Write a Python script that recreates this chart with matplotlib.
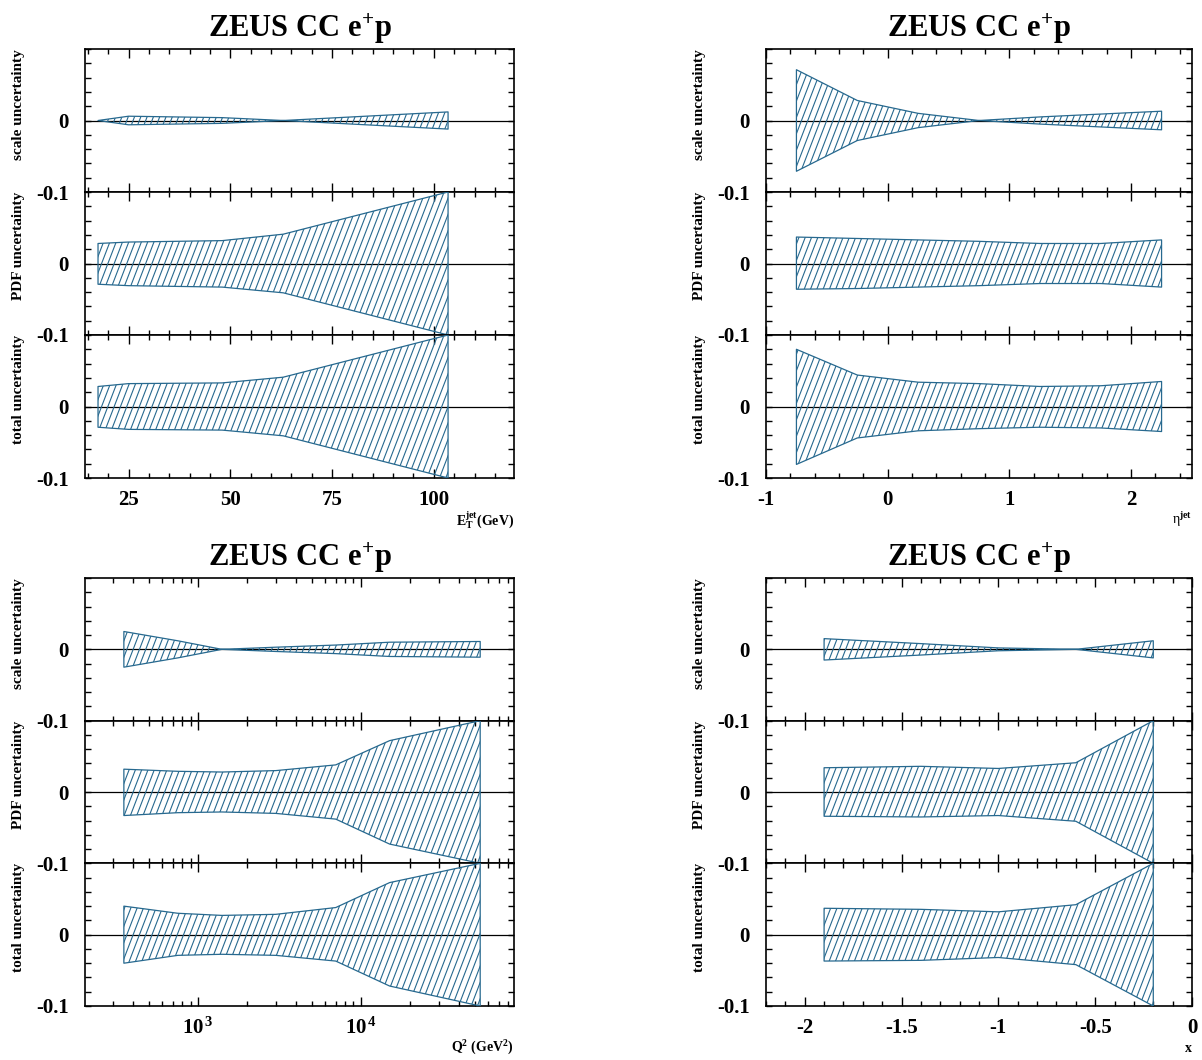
import numpy as np
import matplotlib
matplotlib.use('Agg')
import matplotlib.pyplot as plt
from matplotlib.ticker import MultipleLocator, FuncFormatter, LogLocator, NullFormatter
from matplotlib.collections import LineCollection

plt.rcParams['font.family'] = ['Liberation Serif', 'DejaVu Serif']
plt.rcParams['font.weight'] = 'bold'
plt.rcParams['mathtext.fontset'] = 'custom'
plt.rcParams['mathtext.rm'] = 'Liberation Serif:bold'
plt.rcParams['mathtext.bf'] = 'Liberation Serif:bold'
plt.rcParams['mathtext.it'] = 'Liberation Serif:italic:bold'
plt.rcParams['axes.unicode_minus'] = False

# E_T^jet
et_x = [17.5, 25, 48, 63, 103.5]
et_scale = [0.0, 0.006, 0.004, 0.0, 0.012]
et_pdf_up = [0.028, 0.030, 0.032, 0.041, 0.100]
et_pdf_dn = [-0.029, -0.031, -0.033, -0.041, -0.100]
et_tot_up = [0.028, 0.032, 0.033, 0.041, 0.100]
et_tot_dn = [-0.029, -0.032, -0.033, -0.041, -0.100]

# eta^jet
eta_x = [-0.75, -0.25, 0.25, 0.75, 1.25, 1.75, 2.25]
eta_scale = [0.071, 0.028, 0.010, 0.0, 0.005, 0.009, 0.013]
eta_pdf_up = [0.037, 0.035, 0.033, 0.031, 0.028, 0.028, 0.033]
eta_pdf_dn = [-0.036, -0.035, -0.033, -0.031, -0.028, -0.028, -0.033]
eta_tot_up = [0.080, 0.044, 0.034, 0.032, 0.028, 0.029, 0.035]
eta_tot_dn = [-0.081, -0.044, -0.034, -0.031, -0.029, -0.030, -0.035]

# Q^2
q2_x = [350, 750, 1400, 3000, 7000, 15000, 54000]
q2_scale = [0.025, 0.012, 0.0, 0.003, 0.006, 0.010, 0.011]
q2_pdf_up = [0.032, 0.029, 0.028, 0.030, 0.038, 0.072, 0.100]
q2_pdf_dn = [-0.033, -0.029, -0.028, -0.030, -0.038, -0.073, -0.100]
q2_tot_up = [0.040, 0.030, 0.027, 0.0285, 0.038, 0.073, 0.100]
q2_tot_dn = [-0.040, -0.029, -0.0275, -0.029, -0.037, -0.072, -0.100]

# log10(x)
lx_x = [-1.9, -1.4, -1.0, -0.6, -0.2]
lx_scale = [0.015, 0.008, 0.002, 0.0, 0.012]
lx_pdf_up = [0.034, 0.036, 0.033, 0.041, 0.100]
lx_pdf_dn = [-0.034, -0.035, -0.033, -0.041, -0.100]
lx_tot_up = [0.037, 0.0355, 0.032, 0.042, 0.100]
lx_tot_dn = [-0.037, -0.036, -0.032, -0.042, -0.100]

ylabels = ['scale uncertainty', 'PDF uncertainty', 'total uncertainty']
title = r'$\mathbf{ZEUS\ CC\ e^{+}p}$'

W, H = 1202, 1060
fig = plt.figure(figsize=(W / 100, H / 100), dpi=100)
band_color = '#27698f'


def yfmt(v, p):
    if abs(v) < 1e-6:
        return '0'
    if abs(v + 0.1) < 1e-6:
        return '-0.1'
    return ''


def hatch_band(ax, x, lo, hi, w_px, h_px):
    poly = ax.fill_between(x, lo, hi, facecolor='none', edgecolor=band_color,
                           lw=0.9, zorder=3)
    step = 6.3 / w_px
    lean = h_px / 2.6 / w_px
    segs = [[(x0, 0), (x0 + lean, 1)] for x0 in np.arange(-lean - step, 1 + step, step)]
    lc = LineCollection(segs, colors=band_color, linewidths=0.8,
                        transform=ax.transAxes, zorder=3)
    ax.add_collection(lc, autolim=False)
    lc.set_clip_path(poly.get_paths()[0], ax.transData)


def panel(x0, x1, ytop, ybot, x, bands, xlim, major, minor, xlabel, log=False,
          xlabel_weight='bold'):
    h = (ybot - ytop) / 3.0
    w = x1 - x0
    fig.text((x0 + x1) / 2 / W, 1 - (ytop - 20) / H, title, ha='center', va='center',
             fontsize=22)
    for i, (lo, hi) in enumerate(bands):
        top = ytop + i * h
        ax = fig.add_axes([x0 / W, 1 - (top + h) / H, w / W, h / H])
        ax.axhline(0, color='black', lw=0.9, zorder=2)
        hatch_band(ax, x, lo, hi, w, h)
        if log:
            ax.set_xscale('log')
            ax.xaxis.set_major_locator(LogLocator(base=10))
            ax.xaxis.set_minor_locator(LogLocator(base=10, subs=np.arange(2, 10)))
            ax.xaxis.set_major_formatter(FuncFormatter(
                lambda v, p: r'$\mathbf{10}^{\,\mathbf{%d}}$' % round(np.log10(v))))
            ax.xaxis.set_minor_formatter(NullFormatter())
        else:
            ax.xaxis.set_major_locator(MultipleLocator(major))
            ax.xaxis.set_minor_locator(MultipleLocator(minor))
            ax.xaxis.set_major_formatter(FuncFormatter(lambda v, p: '%g' % round(v, 3)))
        ax.set_xlim(*xlim)
        ax.set_ylim(-0.1, 0.1)
        ax.yaxis.set_major_locator(MultipleLocator(0.02))
        ax.yaxis.set_major_formatter(FuncFormatter(yfmt))
        ax.tick_params(axis='both', which='both', direction='in', top=True, right=True,
                       labelsize=15, width=1.0)
        ax.tick_params(axis='x', which='major', length=6.5, pad=8.5)
        ax.tick_params(axis='x', which='minor', length=3.6)
        ax.tick_params(axis='y', which='major', length=4.0, pad=11.5)
        for s in ax.spines.values():
            s.set_linewidth(1.2)
        if i < 2:
            ax.tick_params(axis='x', labelbottom=False)
        ax.text(-67.0 / w, 1.0, ylabels[i], transform=ax.transAxes, rotation=90,
                ha='center', va='top', fontsize=11)
        if i == 2:
            ax.text(1.0, -42.0 / h, xlabel, transform=ax.transAxes, ha='right',
                    va='center', fontsize=10, fontweight=xlabel_weight)


panel(85, 514, 49, 478, et_x,
      [(-np.array(et_scale), et_scale), (et_pdf_dn, et_pdf_up), (et_tot_dn, et_tot_up)],
      (14.3, 119.7), 25, 5, r'$\mathbf{E_{T}^{jet}}$(GeV)')
panel(766, 1192, 49, 478, eta_x,
      [(-np.array(eta_scale), eta_scale), (eta_pdf_dn, eta_pdf_up), (eta_tot_dn, eta_tot_up)],
      (-1, 2.5), 1, 0.2, r'η$^{\mathbf{jet}}$', xlabel_weight='normal')
panel(85, 514, 578, 1006, q2_x,
      [(-np.array(q2_scale), q2_scale), (q2_pdf_dn, q2_pdf_up), (q2_tot_dn, q2_tot_up)],
      (202, 87100), None, None, r'$\mathbf{Q^{2}}$ (GeV$^{\mathbf{2}}$)', log=True)
panel(766, 1192, 578, 1006, lx_x,
      [(-np.array(lx_scale), lx_scale), (lx_pdf_dn, lx_pdf_up), (lx_tot_dn, lx_tot_up)],
      (-2.2, 0), 0.5, 0.1, 'x')

fig.savefig('out.png', dpi=100)
